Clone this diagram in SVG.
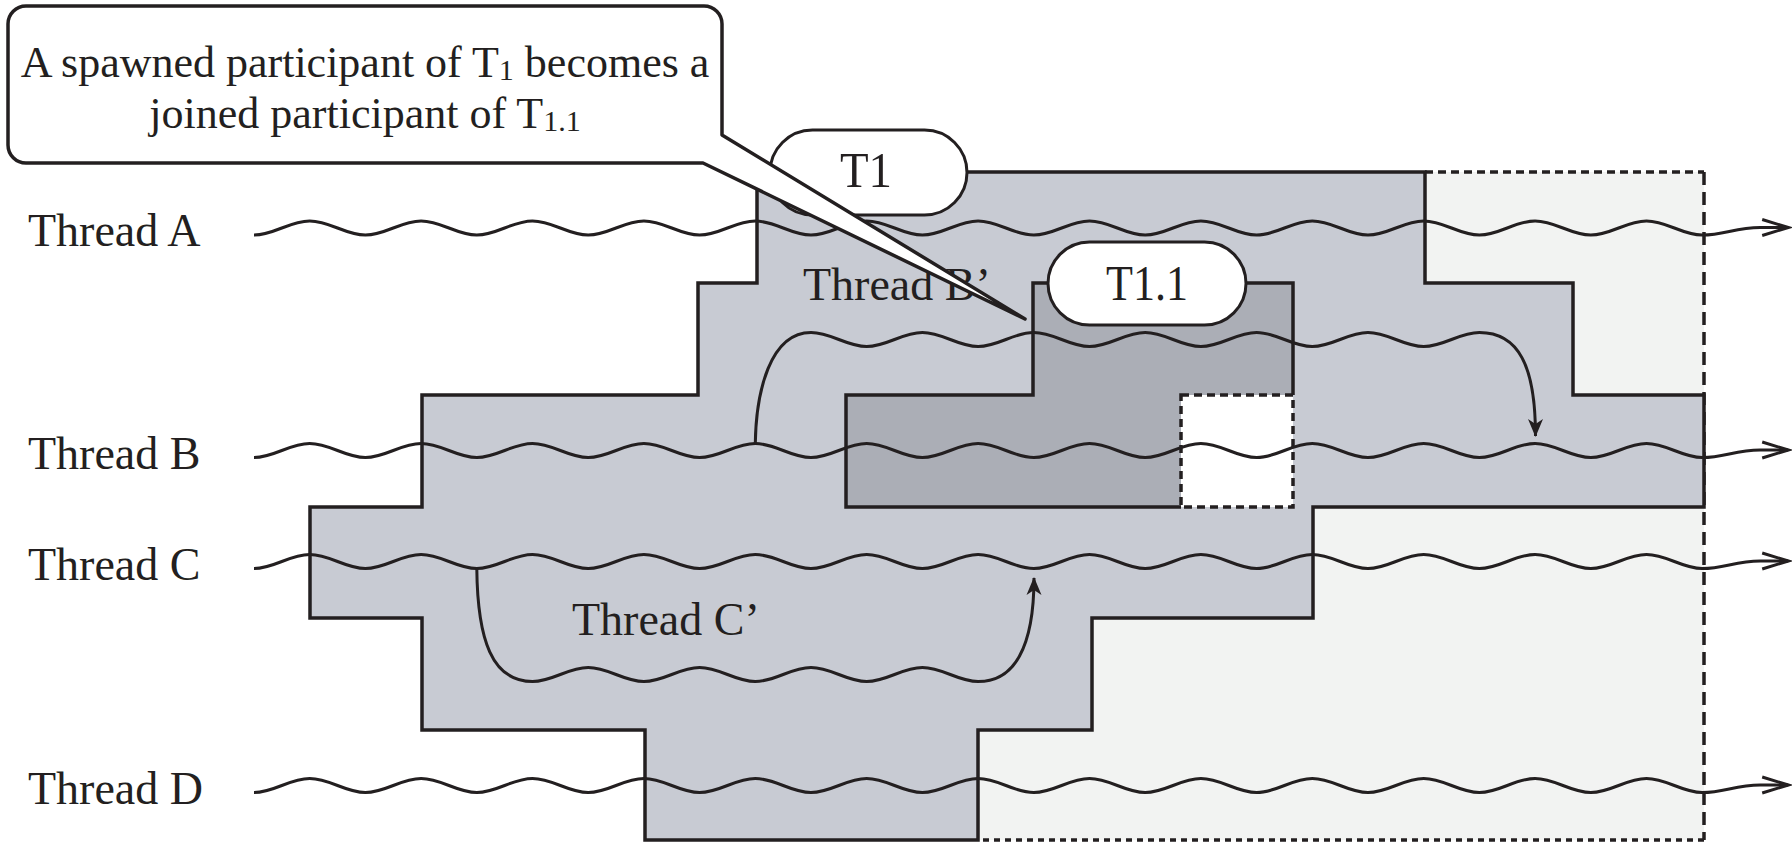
<svg xmlns="http://www.w3.org/2000/svg" width="1792" height="845" viewBox="0 0 1792 845">
<style>
.ln{fill:none;stroke:#231f20;stroke-width:3}
.ol{stroke:#231f20;stroke-width:3.5;stroke-linejoin:miter}
.dash{fill:none;stroke:#231f20;stroke-width:3.5}
.lbl{font-family:"Liberation Serif","Times New Roman",serif;font-size:46px;fill:#231f20}
.pill{fill:#ffffff;stroke:#231f20;stroke-width:3}
.pt{font-family:"Liberation Serif","Times New Roman",serif;font-size:50px;fill:#231f20}
.ct{font-family:"Liberation Serif","Times New Roman",serif;font-size:44px;fill:#231f20}
</style>
<defs>
<marker id="open" markerUnits="userSpaceOnUse" orient="auto" overflow="visible" markerWidth="30" markerHeight="20" refX="0" refY="0">
<path d="M-26,-8 L0,0 L-26,8" fill="none" stroke="#231f20" stroke-width="3"/>
</marker>
<marker id="solid" markerUnits="userSpaceOnUse" orient="auto" overflow="visible" markerWidth="20" markerHeight="20" refX="0" refY="0">
<path d="M1,0 L-17,-7.5 L-12,0 L-17,7.5 Z" fill="#231f20"/>
</marker>
</defs>
<rect width="1792" height="845" fill="#ffffff"/>

<g id="region-light">
<polygon points="1425,172 1704,172 1704,840 978,840 978,507 1425,507" fill="#f2f3f2"/>
<path class="dash" stroke-dasharray="8 5" d="M1425,172 H1704"/>
<path class="dash" stroke-dasharray="13 7" d="M1704,172 V840"/>
<path class="dash" stroke-dasharray="6 5" d="M1704,840 H978"/>
</g>

<g id="region-T1">
<polygon class="ol" fill="#c8cbd3" points="757,172 1425,172 1425,283 1573,283 1573,395 1704,395 1704,507 1313,507 1313,618 1092,618 1092,730 978,730 978,840 645,840 645,730 422,730 422,618 310,618 310,507 422,507 422,395 698,395 698,283 757,283"/>
</g>

<g id="region-T1.1">
<polygon points="1033,283 1293,283 1293,395 1181,395 1181,507 846,507 846,395 1033,395" fill="#abaeb6"/>
<path class="ol" fill="none" d="M1181,507 H846 V395 H1033 V283 H1293 V395"/>
<rect x="1181" y="395" width="112" height="112" fill="#ffffff" stroke="#231f20" stroke-width="3.5" stroke-dasharray="8 5"/>
</g>

<g id="labels">
<text class="lbl" x="28" y="246">Thread A</text>
<text class="lbl" x="28" y="469">Thread B</text>
<text class="lbl" x="28" y="580">Thread C</text>
<text class="lbl" x="28" y="804">Thread D</text>
<text class="lbl" x="803" y="300">Thread B’</text>
<text class="lbl" x="572" y="635">Thread C’</text>
</g>

<g id="connectors">
<path id="thread-A" class="ln" marker-end="url(#open)" d="M254,235 c20.3,0 35.4,-14 55.7,-14 s35.4,14 55.7,14 s35.4,-14 55.7,-14 s35.4,14 55.7,14 s35.4,-14 55.7,-14 s35.4,14 55.7,14 s35.4,-14 55.7,-14 s35.4,14 55.7,14 s35.4,-14 55.7,-14 s35.4,14 55.7,14 s35.4,-14 55.7,-14 s35.4,14 55.7,14 s35.4,-14 55.7,-14 s35.4,14 55.7,14 s35.4,-14 55.7,-14 s35.4,14 55.7,14 s35.4,-14 55.7,-14 s35.4,14 55.7,14 s35.4,-14 55.7,-14 s35.4,14 55.7,14 s35.4,-14 55.7,-14 s35.4,14 55.7,14 s35.4,-14 55.7,-14 s35.4,14 55.7,14 s35.4,-14 55.7,-14 s35.4,14 55.7,14 c22,0 33,-7.5 58,-7.5 l28,0"/>
<path id="thread-B" class="ln" marker-end="url(#open)" d="M254,457.5 c20.3,0 35.4,-14 55.7,-14 s35.4,14 55.7,14 s35.4,-14 55.7,-14 s35.4,14 55.7,14 s35.4,-14 55.7,-14 s35.4,14 55.7,14 s35.4,-14 55.7,-14 s35.4,14 55.7,14 s35.4,-14 55.7,-14 s35.4,14 55.7,14 s35.4,-14 55.7,-14 s35.4,14 55.7,14 s35.4,-14 55.7,-14 s35.4,14 55.7,14 s35.4,-14 55.7,-14 s35.4,14 55.7,14 s35.4,-14 55.7,-14 s35.4,14 55.7,14 s35.4,-14 55.7,-14 s35.4,14 55.7,14 s35.4,-14 55.7,-14 s35.4,14 55.7,14 s35.4,-14 55.7,-14 s35.4,14 55.7,14 s35.4,-14 55.7,-14 s35.4,14 55.7,14 c22,0 33,-7.5 58,-7.5 l28,0"/>
<path id="thread-C" class="ln" marker-end="url(#open)" d="M254,568.5 c20.3,0 35.4,-14 55.7,-14 s35.4,14 55.7,14 s35.4,-14 55.7,-14 s35.4,14 55.7,14 s35.4,-14 55.7,-14 s35.4,14 55.7,14 s35.4,-14 55.7,-14 s35.4,14 55.7,14 s35.4,-14 55.7,-14 s35.4,14 55.7,14 s35.4,-14 55.7,-14 s35.4,14 55.7,14 s35.4,-14 55.7,-14 s35.4,14 55.7,14 s35.4,-14 55.7,-14 s35.4,14 55.7,14 s35.4,-14 55.7,-14 s35.4,14 55.7,14 s35.4,-14 55.7,-14 s35.4,14 55.7,14 s35.4,-14 55.7,-14 s35.4,14 55.7,14 s35.4,-14 55.7,-14 s35.4,14 55.7,14 s35.4,-14 55.7,-14 s35.4,14 55.7,14 c22,0 33,-7.5 58,-7.5 l28,0"/>
<path id="thread-D" class="ln" marker-end="url(#open)" d="M254,792.5 c20.3,0 35.4,-14 55.7,-14 s35.4,14 55.7,14 s35.4,-14 55.7,-14 s35.4,14 55.7,14 s35.4,-14 55.7,-14 s35.4,14 55.7,14 s35.4,-14 55.7,-14 s35.4,14 55.7,14 s35.4,-14 55.7,-14 s35.4,14 55.7,14 s35.4,-14 55.7,-14 s35.4,14 55.7,14 s35.4,-14 55.7,-14 s35.4,14 55.7,14 s35.4,-14 55.7,-14 s35.4,14 55.7,14 s35.4,-14 55.7,-14 s35.4,14 55.7,14 s35.4,-14 55.7,-14 s35.4,14 55.7,14 s35.4,-14 55.7,-14 s35.4,14 55.7,14 s35.4,-14 55.7,-14 s35.4,14 55.7,14 s35.4,-14 55.7,-14 s35.4,14 55.7,14 c22,0 33,-7.5 58,-7.5 l28,0"/>
<path id="thread-B-prime" class="ln" marker-end="url(#solid)" d="M755.3,443.5 C756,392 770,332.5 811,332.5 c20.3,0 35.4,14 55.7,14 s35.4,-14 55.7,-14 s35.4,14 55.7,14 s35.4,-14 55.7,-14 s35.4,14 55.7,14 s35.4,-14 55.7,-14 s35.4,14 55.7,14 s35.4,-14 55.7,-14 s35.4,14 55.7,14 s35.4,-14 55.7,-14 s35.4,14 55.7,14 s35.4,-14 55.7,-14 C1518,332.5 1535.5,365 1535.5,436"/>
<path id="thread-C-prime" class="ln" marker-end="url(#solid)" d="M476.8,568.5 C477.5,640 492,681.5 532.5,681.5 c20.3,0 35.4,-14 55.7,-14 s35.4,14 55.7,14 s35.4,-14 55.7,-14 s35.4,14 55.7,14 s35.4,-14 55.7,-14 s35.4,14 55.7,14 s35.4,-14 55.7,-14 s35.4,14 55.7,14 C1014,681.5 1034,648 1034,578"/>
</g>

<g id="T1">
<rect class="pill" x="770" y="130" width="197" height="85" rx="42.5" ry="42.5"/>
<text class="pt" x="866" y="187" text-anchor="middle" textLength="52" lengthAdjust="spacingAndGlyphs">T1</text>
</g>

<g id="T1.1">
<rect class="pill" x="1048" y="242" width="198" height="83" rx="41.5" ry="41.5"/>
<text class="pt" x="1147" y="300" text-anchor="middle" textLength="82" lengthAdjust="spacingAndGlyphs">T1.1</text>
</g>

<g id="callout">
<path d="M26,6 H704 A18,18 0 0 1 722,24 V135 L1025,319 L703,163 H26 A18,18 0 0 1 8,145 V24 A18,18 0 0 1 26,6 Z" fill="#ffffff" stroke="#231f20" stroke-width="3.5" stroke-linejoin="round"/>
<text class="ct" x="365" y="77" text-anchor="middle">A spawned participant of T<tspan font-size="30" dy="3">1</tspan><tspan dy="-3"> becomes a</tspan></text>
<text class="ct" x="365" y="128" text-anchor="middle">joined participant of T<tspan font-size="30" dy="3">1.1</tspan></text>
</g>
</svg>
